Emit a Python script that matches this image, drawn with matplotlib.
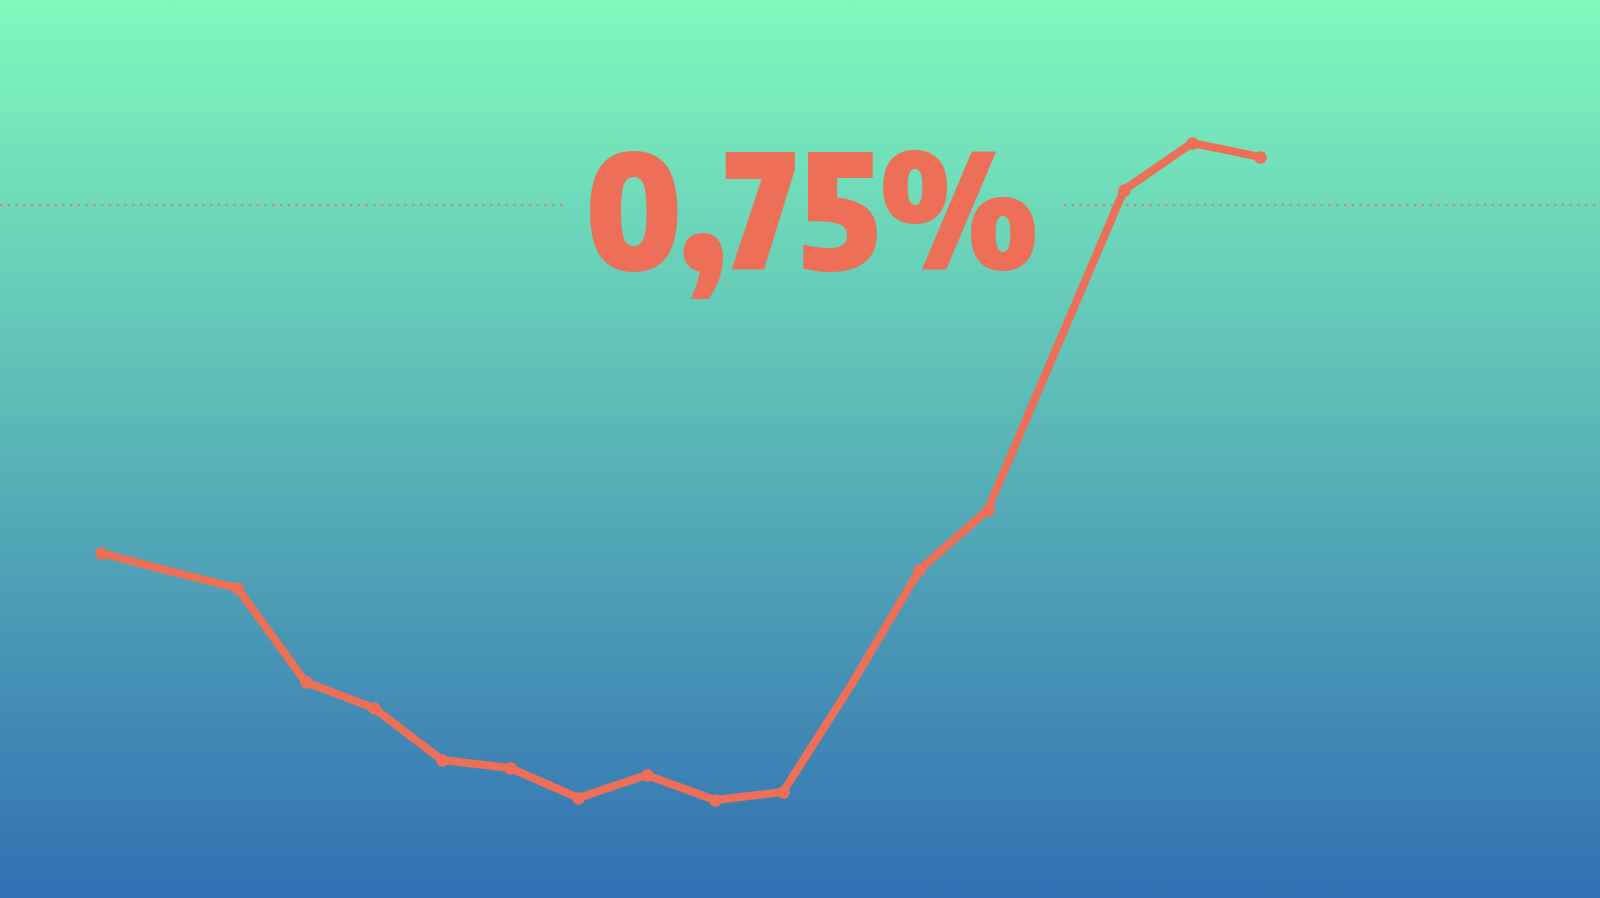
import numpy as np
import matplotlib
matplotlib.use("Agg")
import matplotlib.pyplot as plt
from matplotlib.colors import LinearSegmentedColormap

# Data (monthly values, %)
months = list(range(18))
values = [0.054, 0.018, -0.016, -0.204, -0.256, -0.360, -0.376, -0.436, -0.390,
          -0.440, -0.424, -0.210, 0.020, 0.140, 0.460, 0.780, 0.874, 0.846]
# Points drawn as knots (others lie on straight segments)
knot_idx = [0, 2, 3, 4, 5, 6, 7, 8, 9, 10, 12, 13, 15, 16, 17]
ref_value = 0.75
ref_label = "0,75%"

line_color = "#EE6F57"
top_color = "#80F9BC"
bottom_color = "#3370B3"

fig = plt.figure(figsize=(16, 8.98), dpi=100)
ax = fig.add_axes([0, 0, 1, 1])

xmin, xmax = -1.481, 21.98
ymin, ymax = -0.636, 1.16
ax.set_xlim(xmin, xmax)
ax.set_ylim(ymin, ymax)
ax.axis("off")

# Gradient background
cmap = LinearSegmentedColormap.from_list("bg", [bottom_color, top_color])
grad = np.linspace(0, 1, 512).reshape(-1, 1)
ax.imshow(grad, cmap=cmap, aspect="auto", origin="lower",
          extent=[xmin, xmax, ymin, ymax], zorder=0)

# Dotted reference line with gap for label
ax.plot([xmin, 6.82], [ref_value, ref_value], color=line_color, alpha=0.75,
        lw=1.6, linestyle=(0, (1, 2.5)), zorder=1)
ax.plot([14.12, xmax], [ref_value, ref_value], color=line_color, alpha=0.75,
        lw=1.6, linestyle=(0, (1, 2.5)), zorder=1)

# Main line
ax.plot(months, values, color=line_color, lw=5.8, solid_capstyle="round",
        solid_joinstyle="round", zorder=3)
ax.plot([months[i] for i in knot_idx], [values[i] for i in knot_idx],
        linestyle="none", marker="o", ms=8, color=line_color, zorder=3)

# Big label
ax.text(10.43, 0.620, ref_label, ha="center", va="baseline",
        fontsize=115, fontweight="black", color=line_color,
        family=["Encode Sans Condensed", "Liberation Sans", "DejaVu Sans"],
        zorder=4)

fig.savefig("out.png", dpi=100)
